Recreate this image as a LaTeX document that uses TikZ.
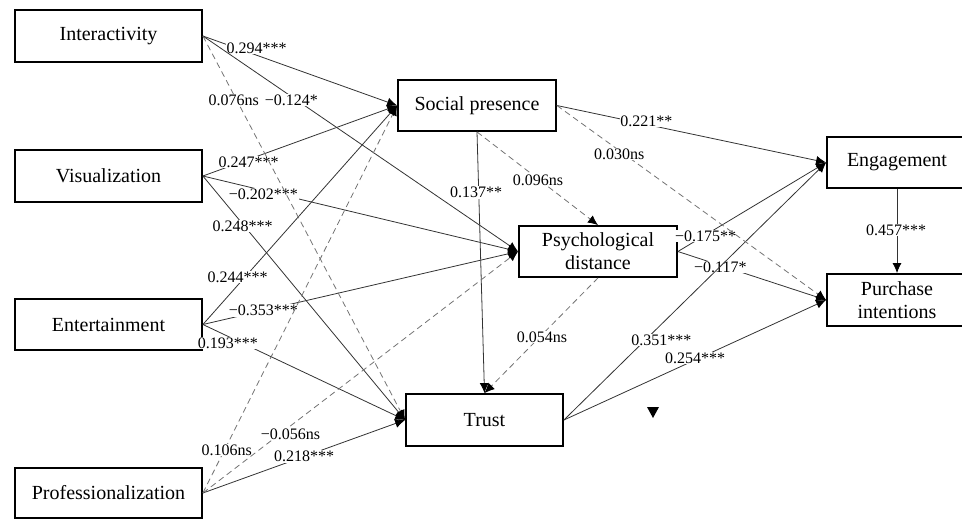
\documentclass[tikz,border=0pt]{standalone}
\usepackage{fontspec}
\setmainfont{Liberation Serif}
\usetikzlibrary{arrows.meta}
\begin{document}
\begin{tikzpicture}[x=1pt,y=-1pt,
  box/.style={draw, line width=1.8pt, rectangle, inner sep=0pt, align=center, font=\fontsize{20}{23}\selectfont},
  lbl/.style={fill=white, inner sep=0.6pt, font=\fontsize{16}{18}\selectfont},
  tip/.style={-{Latex[length=10pt,width=9pt,color=black]}},
  sol/.style={draw=black!80, line width=0.8pt, tip},
  dsh/.style={draw=black!55, line width=0.8pt, dash pattern=on 6pt off 4pt, tip},
]
\useasboundingbox (0,0) rectangle (962,520);

% boxes
\node[box, minimum width=187pt, minimum height=52pt] (inter) at (108.5,36) {Interactivity};
\node[box, minimum width=187pt, minimum height=52pt] (vis) at (108.5,176) {Visualization};
\node[box, minimum width=187pt, minimum height=51pt] (ent) at (108.5,324.5) {Entertainment};
\node[box, minimum width=187pt, minimum height=50pt] (prof) at (108.5,493) {Professionalization};
\node[box, minimum width=158pt, minimum height=51pt] (sp) at (477,105.5) {Social presence};
\node[box, minimum width=158pt, minimum height=51pt] (psy) at (598,251.5) {Psychological\\distance};
\node[box, minimum width=157pt, minimum height=52pt] (trust) at (484.5,420) {Trust};
\node[box, minimum width=140pt, minimum height=51pt] (eng) at (897,162.5) {Engagement};
\node[box, minimum width=140pt, minimum height=52pt] (pur) at (897,300) {Purchase\\intentions};

% solid paths
\draw[sol] (inter.east) -- node[lbl, pos=0.276, yshift=7pt] {0.294***} (sp.west);
\draw[sol] (inter.east) -- node[lbl, pos=0.281, yshift=-3.5pt] {−0.124*} (psy.west);
\draw[sol] (vis.east) -- node[lbl, pos=0.235, yshift=-2.6pt] {0.247***} (sp.west);
\draw[sol] (vis.east) -- node[lbl, pos=0.192, yshift=-3.5pt] {−0.202***} (psy.west);
\draw[sol] (vis.east) -- node[lbl, pos=0.196, yshift=-2.2pt] {0.248***} (trust.west);
\draw[sol] (ent.east) -- node[lbl, pos=0.217, xshift=-7.5pt] {0.244***} (sp.west);
\draw[sol] (ent.east) -- node[lbl, pos=0.192] {−0.353***} (psy.west);
\draw[sol] (ent.east) -- node[lbl, pos=0.123, yshift=-6.8pt] {0.193***} (trust.west);
\draw[sol] (prof.east) -- node[lbl, pos=0.5] {0.218***} (trust.west);
\draw[sol] (sp.east) -- node[lbl, pos=0.332, yshift=3.4pt] {0.221**} (eng.west);
\draw[sol] (sp.south) -- node[lbl, pos=0.232, xshift=-2.7pt] {0.137**} (trust.north);
\draw[sol] (psy.east) -- node[lbl, pos=0.187, yshift=-1pt] {−0.175**} (eng.west);
\draw[sol] (psy.east) -- node[lbl, pos=0.287, yshift=-1.6pt] {−0.117*} (pur.west);
\draw[sol] (trust.east) -- node[lbl, pos=0.311, xshift=16pt] {0.351***} (eng.west);
\draw[sol] (trust.east) -- node[lbl, pos=0.5, yshift=2pt] {0.254***} (pur.west);
\draw[sol] (eng.south) -- node[lbl, pos=0.488, xshift=-1pt] {0.457***} (pur.north);

% dashed paths
\draw[dsh] (inter.east) -- node[lbl, pos=0.152, yshift=-5.6pt] {0.076ns} (trust.west);
\draw[dsh] (prof.east) -- node[lbl, pos=0.111, xshift=2.3pt] {0.106ns} (sp.west);
\draw[dsh] (prof.east) -- node[lbl, pos=0.278, yshift=-8.1pt] {−0.056ns} (psy.west);
\draw[dsh] (sp.east) -- node[lbl, pos=0.232, yshift=-3.3pt] {0.030ns} (pur.west);
\draw[dsh] (sp.south) -- node[lbl, pos=0.504, yshift=-1pt] {0.096ns} (psy.north);
\draw[dsh] (psy.south) -- node[lbl, pos=0.513, xshift=2.2pt] {0.054ns} (trust.north);

% stray marker
\fill (647,407) -- (659,407) -- (653,418) -- cycle;
\end{tikzpicture}
\end{document}
